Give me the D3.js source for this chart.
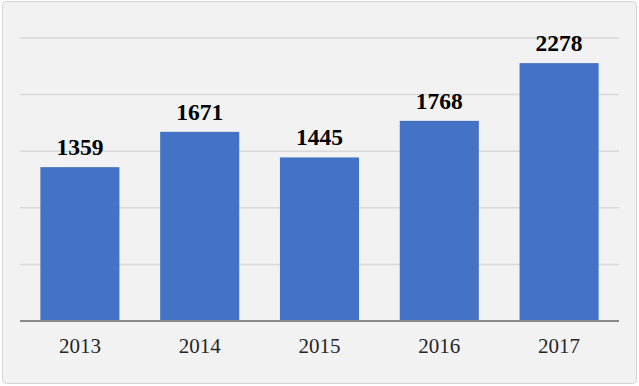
<!DOCTYPE html>
<html>
<head>
<meta charset="utf-8">
<script src="https://cdn.jsdelivr.net/npm/d3@7"></script>
<style>
  body { margin: 0; background: #fff; }
  svg { display: block; }
</style>
</head>
<body>
<svg id="chart" width="639" height="386"></svg>
<script>
// datos del grafico
const years = ["2013", "2014", "2015", "2016", "2017"];
const values = [1359, 1671, 1445, 1768, 2278];
const gridTicks = [0, 500, 1000, 1500, 2000, 2500];

const svg = d3.select("#chart");

// marco de fondo
svg.append("rect")
  .attr("x", 2.5).attr("y", 1.5)
  .attr("width", 634).attr("height", 382)
  .attr("rx", 4)
  .attr("fill", "#f2f2f2")
  .attr("stroke", "#d4d4d4");

const x = d3.scaleBand()
  .domain(years)
  .range([20, 619])
  .paddingInner(0.34)
  .paddingOuter(0.17);

const y = d3.scaleLinear()
  .domain([0, 2500])
  .range([321, 38]);

// lineas de cuadricula
svg.append("g")
  .selectAll("line")
  .data(gridTicks.filter(d => d > 0))
  .join("line")
  .attr("x1", 20).attr("x2", 619)
  .attr("y1", d => y(d)).attr("y2", d => y(d))
  .attr("stroke", "#d9d9d9")
  .attr("stroke-width", 1.5);

// barras
svg.append("g")
  .selectAll("rect")
  .data(values)
  .join("rect")
  .attr("x", (d, i) => x(years[i]))
  .attr("y", d => y(d))
  .attr("width", x.bandwidth())
  .attr("height", d => y(0) - y(d))
  .attr("fill", "#4472c4");

// etiquetas de valor
svg.append("g")
  .selectAll("text")
  .data(values)
  .join("text")
  .attr("x", (d, i) => x(years[i]) + x.bandwidth() / 2)
  .attr("y", d => y(d) - 12)
  .attr("text-anchor", "middle")
  .attr("font-family", "'Liberation Serif', 'Times New Roman', serif")
  .attr("font-weight", "bold")
  .attr("font-size", 23.5)
  .attr("fill", "#000")
  .text(d => d);

// eje x
const axis = svg.append("g")
  .attr("transform", `translate(0,${y(0)})`)
  .call(d3.axisBottom(x).tickSize(0).tickPadding(0));

axis.select(".domain")
  .attr("stroke", "#8a8a8a")
  .attr("stroke-width", 2)
  .attr("d", "M20,0H619");

axis.selectAll("text")
  .attr("y", 32)
  .attr("dy", 0)
  .attr("font-family", "'Liberation Serif', 'Times New Roman', serif")
  .attr("font-size", 21)
  .attr("fill", "#262626");
</script>
</body>
</html>
